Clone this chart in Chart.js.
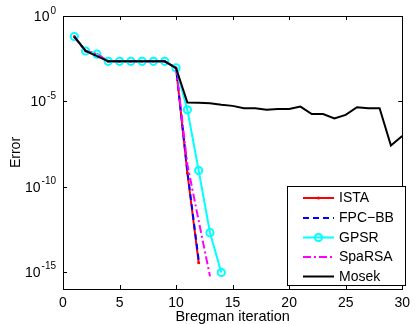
<!DOCTYPE html>
<html>
<head>
<meta charset="utf-8">
<script src="https://cdn.jsdelivr.net/npm/chart.js@4/dist/chart.umd.min.js"></script>
<style>
  html, body { margin: 0; padding: 0; background: #fff; }
  #wrap { width: 416px; height: 324px; }
</style>
</head>
<body>
<div id="wrap"><canvas id="c" width="416" height="324"></canvas></div>
<script>
// ---- data ----
const iterations = [1,2,3,4,5,6,7,8,9,10,11,12,13,14,15,16,17,18,19,20,21,22,23,24,25,26,27,28,29,30];
const istaErr   = [6.2e-2, 8.9e-3, 5.8e-3, 2.2e-3, 2.2e-3, 2.2e-3, 2.2e-3, 2.2e-3, 2.2e-3, 9.0e-4, 6.3e-10, 3.5e-15];
const fpcbbErr  = [6.2e-2, 8.9e-3, 5.8e-3, 2.2e-3, 2.2e-3, 2.2e-3, 2.2e-3, 2.2e-3, 2.2e-3, 9.0e-4, 7.9e-10, 5.0e-15];
const gpsrErr   = [6.2e-2, 8.9e-3, 5.8e-3, 2.2e-3, 2.2e-3, 2.2e-3, 2.2e-3, 2.2e-3, 2.2e-3, 9.0e-4, 3.2e-6, 8.7e-10, 2.0e-13, 9.3e-16];
const sparsaErr = [6.2e-2, 8.9e-3, 5.8e-3, 2.2e-3, 2.2e-3, 2.2e-3, 2.2e-3, 2.2e-3, 2.2e-3, 9.0e-4, 2.0e-9, 1.0e-12, 5.5e-16];
const mosekErr  = [6.2e-2, 8.9e-3, 4.5e-3, 2.2e-3, 2.2e-3, 2.2e-3, 2.2e-3, 2.2e-3, 2.2e-3, 8.7e-4,
                   8.5e-6, 8.1e-6, 7.8e-6, 6.2e-6, 5.4e-6, 3.9e-6, 3.9e-6, 3.2e-6, 3.6e-6, 3.5e-6,
                   4.9e-6, 1.8e-6, 1.8e-6, 1.0e-6, 1.6e-6, 4.5e-6, 3.9e-6, 3.9e-6, 2.6e-8, 9.3e-8];
const seriesNames = ['ISTA', 'FPC\u2212BB', 'GPSR', 'SpaRSA', 'Mosek'];
const xTicks = [0, 5, 10, 15, 20, 25, 30];
const yTicks = [1e-15, 1e-10, 1e-5, 1];
const yTickBase = '10';
const yTickExponents = ['-15', '-10', '-5', '0'];
const xTitle = 'Bregman iteration';
const yTitle = 'Error';

const FONT = '"Liberation Sans", Arial, Helvetica, sans-serif';
const toXY = (vals) => vals.map((v, i) => ({x: iterations[i], y: v}));

const styles = [
  {color: '#ff0000', dash: [], marker: 'dot'},
  {color: '#0000ff', dash: [6, 4], marker: null},
  {color: '#00ffff', dash: [], marker: 'circle'},
  {color: '#ff00ff', dash: [8, 3, 2, 3], marker: null},
  {color: '#000000', dash: [], marker: null}
];
const allData = [istaErr, fpcbbErr, gpsrErr, sparsaErr, mosekErr];

const datasets = allData.map((vals, i) => ({
  label: seriesNames[i],
  data: toXY(vals),
  borderColor: styles[i].color,
  backgroundColor: styles[i].color,
  borderWidth: 2,
  borderDash: styles[i].dash,
  pointRadius: styles[i].marker === 'circle' ? 3.6 : (styles[i].marker === 'dot' ? 1.5 : 0),
  pointBorderWidth: styles[i].marker === 'circle' ? 2 : 0,
  pointBorderColor: styles[i].color,
  pointBackgroundColor: styles[i].marker === 'circle' ? 'rgba(0,0,0,0)' : styles[i].color,
  tension: 0,
  order: 5 - i
}));

const framePlugin = {
  id: 'frame',
  afterDraw(chart) {
    const {ctx, chartArea: a, scales: {x, y}} = chart;
    ctx.save();
    // frame
    ctx.strokeStyle = '#000';
    ctx.lineWidth = 1;
    ctx.setLineDash([]);
    ctx.strokeRect(Math.round(a.left) + 0.5, Math.round(a.top) + 0.5, Math.round(a.right - a.left), Math.round(a.bottom - a.top));
    // inward ticks
    const tl = 4;
    ctx.beginPath();
    xTicks.forEach(t => {
      const px = Math.round(x.getPixelForValue(t)) + 0.5;
      ctx.moveTo(px, a.bottom); ctx.lineTo(px, a.bottom - tl);
      ctx.moveTo(px, a.top); ctx.lineTo(px, a.top + tl);
    });
    yTicks.forEach(t => {
      const py = Math.round(y.getPixelForValue(t)) + 0.5;
      ctx.moveTo(a.left, py); ctx.lineTo(a.left + tl, py);
      ctx.moveTo(a.right, py); ctx.lineTo(a.right - tl, py);
    });
    ctx.stroke();

    // y tick labels: base with raised exponent
    ctx.fillStyle = '#000';
    ctx.textBaseline = 'alphabetic';
    ctx.textAlign = 'left';
    yTicks.forEach((t, i) => {
      const py = y.getPixelForValue(t);
      const expText = yTickExponents[i];
      ctx.font = '10px ' + FONT;
      const ew = ctx.measureText(expText).width;
      ctx.font = '14px ' + FONT;
      const bw = ctx.measureText(yTickBase).width;
      const right = a.left - 7;
      const ex = right - ew;
      const bx = ex - 1 - bw;
      ctx.fillText(yTickBase, bx, py + 5);
      ctx.font = '10px ' + FONT;
      ctx.fillText(expText, ex, py - 2.5);
    });

    // legend (inside, bottom-right)
    const lx = 287.5, ly = 186.5, lw = 118, lh = 99;
    ctx.fillStyle = '#fff';
    ctx.fillRect(lx, ly, lw, lh);
    ctx.strokeStyle = '#000';
    ctx.lineWidth = 1;
    ctx.strokeRect(lx, ly, lw, lh);
    const rows = [198, 218, 237.5, 257, 276.5];
    ctx.font = '14px ' + FONT;
    ctx.textBaseline = 'middle';
    ctx.textAlign = 'left';
    seriesNames.forEach((name, i) => {
      const st = styles[i];
      const yy = rows[i];
      ctx.strokeStyle = st.color;
      ctx.lineWidth = 2;
      ctx.setLineDash(st.dash);
      ctx.beginPath();
      ctx.moveTo(303, yy); ctx.lineTo(334, yy);
      ctx.stroke();
      ctx.setLineDash([]);
      if (st.marker === 'circle') {
        ctx.beginPath();
        ctx.arc(318.5, yy, 3.6, 0, Math.PI * 2);
        ctx.stroke();
      } else if (st.marker === 'dot') {
        ctx.fillStyle = st.color;
        ctx.beginPath();
        ctx.arc(318.5, yy, 1.5, 0, Math.PI * 2);
        ctx.fill();
      }
      ctx.fillStyle = '#000';
      ctx.fillText(name, 339, yy + 0.5);
    });
    ctx.restore();
  }
};

new Chart(document.getElementById('c'), {
  type: 'line',
  data: { datasets },
  options: {
    responsive: false,
    animation: false,
    devicePixelRatio: 1,
    layout: { padding: { top: 16, right: 10, left: 0, bottom: 0 } },
    plugins: { legend: { display: false }, tooltip: { enabled: false } },
    scales: {
      x: {
        type: 'linear',
        min: 0, max: 30,
        afterBuildTicks: (s) => { s.ticks = xTicks.map(v => ({value: v})); },
        afterFit: (s) => { s.height = 35; },
        grid: { display: false, drawTicks: false },
        border: { display: false },
        ticks: { color: '#000', font: { family: FONT, size: 14 }, padding: 6, maxRotation: 0, autoSkip: false },
        title: { display: true, text: xTitle, color: '#000', font: { family: FONT, size: 14.5, lineHeight: 1 }, padding: { top: 0, bottom: 0 } }
      },
      y: {
        type: 'logarithmic',
        min: 1e-16, max: 1,
        afterBuildTicks: (s) => { s.ticks = yTicks.map(v => ({value: v})); },
        afterFit: (s) => { s.width = 63; },
        grid: { display: false, drawTicks: false },
        border: { display: false },
        ticks: { display: false },
        title: { display: true, text: yTitle, color: '#000', font: { family: FONT, size: 14, lineHeight: 1 }, padding: { top: 9, bottom: 0 } }
      }
    }
  },
  plugins: [framePlugin]
});
</script>
</body>
</html>
